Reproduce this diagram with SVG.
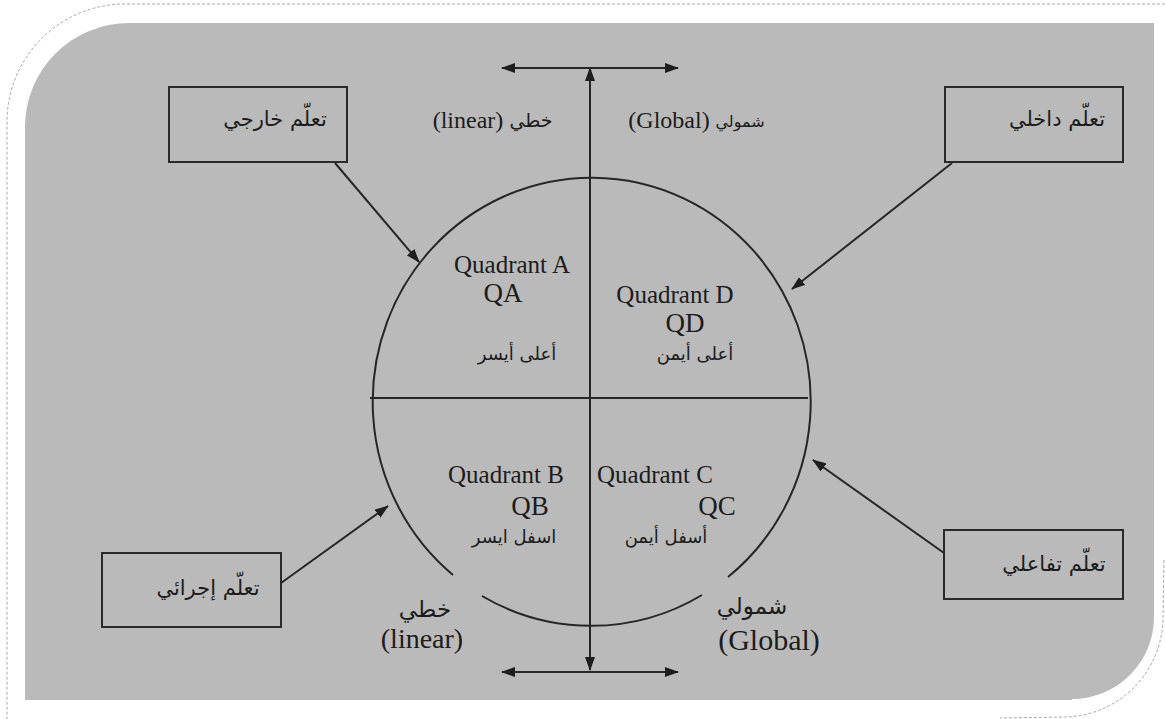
<svg xmlns="http://www.w3.org/2000/svg" width="1165" height="719" viewBox="0 0 1165 719">
  <style>
    .ln { stroke: #262626; stroke-width: 2; fill: none; }
    .box { fill: #bababa; stroke: #2a2a2a; stroke-width: 2; }
    .lat { font-family: "Liberation Serif", "Times New Roman", serif; fill: #1c1c1c; text-anchor: middle; }
    .ar { font-family: "DejaVu Sans", "Noto Sans", sans-serif; fill: #1c1c1c; text-anchor: middle; }
    .edge { stroke: #a8a8a8; stroke-width: 1; fill: none; stroke-dasharray: 3 2; }
  </style>
  <defs>
    <marker id="head" viewBox="0 0 14 10" refX="13" refY="5" markerWidth="14" markerHeight="10" markerUnits="userSpaceOnUse" orient="auto-start-reverse">
      <path d="M0 0 L14 5 L0 10 Z" fill="#1e1e1e"/>
    </marker>
  </defs>

  <!-- page and rounded grey panel -->
  <rect x="0" y="0" width="1165" height="719" fill="#ffffff"/>
  <path class="edge" d="M1165 4 L125 4 A118 118 0 0 0 7 122 L7 719"/>
  <path class="edge" d="M1164 560 L1163 617 A100 100 0 0 1 1063 717 L1000 718"/>
  <path d="M25 700 L25 127 A104 104 0 0 1 129 23 L1154 23 L1154 617 A82 82 0 0 1 1072 699 L1072 700 Z" fill="#bababa"/>

  <!-- connectors -->
  <g id="connectors">
    <!-- circle split into arcs with two gaps at the bottom -->
    <path class="ln" d="M453 575 A219 224 0 1 1 728 577"/>
    <path class="ln" d="M482 596 A219 224 0 0 0 702 595"/>
    <!-- horizontal diameter -->
    <line class="ln" x1="370" y1="398" x2="808" y2="398"/>
    <!-- vertical axis with arrows at both ends -->
    <line class="ln" x1="590" y1="398" x2="590" y2="68" marker-end="url(#head)"/>
    <line class="ln" x1="590" y1="398" x2="590" y2="670" marker-end="url(#head)"/>
    <!-- top and bottom double arrows -->
    <line class="ln" x1="502" y1="68" x2="678" y2="68" marker-start="url(#head)" marker-end="url(#head)"/>
    <line class="ln" x1="502" y1="672" x2="678" y2="672" marker-start="url(#head)" marker-end="url(#head)"/>
    <!-- box arrows -->
    <line class="ln" x1="335" y1="163" x2="419" y2="262" marker-end="url(#head)"/>
    <line class="ln" x1="952" y1="163" x2="792" y2="289" marker-end="url(#head)"/>
    <line class="ln" x1="944" y1="553" x2="813" y2="460" marker-end="url(#head)"/>
    <line class="ln" x1="281" y1="583" x2="388" y2="506" marker-end="url(#head)"/>
  </g>

  <!-- learning-type boxes -->
  <g id="box-external">
    <rect class="box" x="169" y="87" width="178" height="75"/>
    <text class="ar" x="275" y="126" font-size="21">تعلّم خارجي</text>
  </g>
  <g id="box-internal">
    <rect class="box" x="945" y="87" width="178" height="75"/>
    <text class="ar" x="1057" y="126" font-size="21">تعلّم داخلي</text>
  </g>
  <g id="box-procedural">
    <rect class="box" x="102" y="553" width="179" height="74"/>
    <text class="ar" x="208" y="595" font-size="21">تعلّم إجرائي</text>
  </g>
  <g id="box-interactive">
    <rect class="box" x="944" y="530" width="179" height="69"/>
    <text class="ar" x="1054" y="571" font-size="21">تعلّم تفاعلي</text>
  </g>

  <!-- axis labels -->
  <g id="label-top-linear">
    <text class="lat" x="468" y="128" font-size="24">(linear)</text>
    <text class="ar" x="531" y="127" font-size="19">خطي</text>
  </g>
  <g id="label-top-global">
    <text class="lat" x="669" y="128" font-size="24">(Global)</text>
    <text class="ar" x="740" y="127" font-size="16">شمولي</text>
  </g>
  <g id="label-bottom-linear">
    <text class="ar" x="425" y="617" font-size="23">خطي</text>
    <text class="lat" x="422" y="648" font-size="28">(linear)</text>
  </g>
  <g id="label-bottom-global">
    <text class="ar" x="752" y="614" font-size="23">شمولي</text>
    <text class="lat" x="769" y="650" font-size="30">(Global)</text>
  </g>

  <!-- quadrants -->
  <g id="quadrant-a">
    <text class="lat" x="512" y="273" font-size="25">Quadrant A</text>
    <text class="lat" x="503" y="302" font-size="27">QA</text>
    <text class="ar" x="517" y="360" font-size="18">أعلى أيسر</text>
  </g>
  <g id="quadrant-d">
    <text class="lat" x="675" y="303" font-size="25">Quadrant D</text>
    <text class="lat" x="685" y="332" font-size="27">QD</text>
    <text class="ar" x="695" y="360" font-size="18">أعلى أيمن</text>
  </g>
  <g id="quadrant-b">
    <text class="lat" x="506" y="483" font-size="25">Quadrant B</text>
    <text class="lat" x="530" y="515" font-size="27">QB</text>
    <text class="ar" x="514" y="543" font-size="18">اسفل ايسر</text>
  </g>
  <g id="quadrant-c">
    <text class="lat" x="655" y="483" font-size="25">Quadrant C</text>
    <text class="lat" x="717" y="515" font-size="27">QC</text>
    <text class="ar" x="666" y="543" font-size="18">أسفل أيمن</text>
  </g>
</svg>
